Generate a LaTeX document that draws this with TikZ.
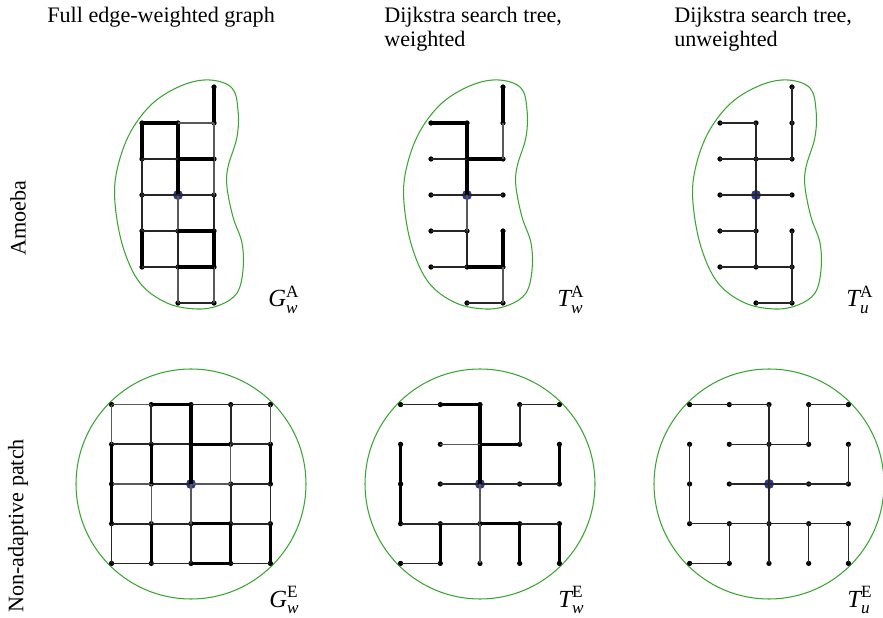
\documentclass[tikz,border=0pt]{standalone}
\usepackage{amsmath}
\usepackage{fontspec}
\setmainfont{Liberation Serif}
\usepackage{tikz}
\definecolor{blobc}{HTML}{3AA632}
\definecolor{rootc}{HTML}{2B3C8E}

\begin{document}
\begin{tikzpicture}[x=0.02cm, y=-0.02cm,
  dot/.style={circle, fill=black, inner sep=0pt, minimum size=1.05mm},
  root/.style={circle, fill=rootc, inner sep=0pt, minimum size=2mm},
  w1/.style={line width=0.7pt, black!65},
  w2/.style={line width=1pt, black!85},
  w3/.style={line width=1.8pt, black},
  flat/.style={line width=0.9pt, black!85},
  blobline/.style={line width=0.6pt, blobc},
  head/.style={font=\fontsize{12.6}{13.7}\selectfont, inner sep=0pt, align=left, anchor=north west},
  side/.style={font=\fontsize{12.6}{13.7}\selectfont, inner sep=0pt, rotate=90},
  lab/.style={font=\fontsize{14}{16}\selectfont, inner sep=0pt, anchor=base west},
  blob/.pic={\draw[blobline] plot[smooth cycle, tension=0.6] coordinates {
    (32,-115) (54,-107) (60,-85) (59,-58) (50,-28) (49,-8) (55,22) (64,48)
    (65,75) (59,98) (42,110) (19,114) (-11,108) (-38,88) (-55,52) (-63,8)
    (-61,-25) (-48,-62) (-25,-92) (5,-110)};}]
  \useasboundingbox (0,0) rectangle (883,618);

  % column and row headings
  \node[head] (hG) at (47,7) {Full edge-weighted graph};
  \node[head] (hTw) at (384,7) {Dijkstra search tree,\\weighted};
  \node[head] (hTu) at (674,7) {Dijkstra search tree,\\unweighted};
  \node[side] (rA) at (18,218) {Amoeba};
  \node[side] (rE) at (18,526) {Non-adaptive patch};

  % amoeba, full graph
  \begin{scope}[shift={(178,195)}]
    \pic {blob};
    \foreach \c/\r in {2/0, 0/1,1/1,2/1, 0/2,1/2,2/2, 0/3,2/3, 0/4,1/4,2/4, 0/5,1/5,2/5, 1/6,2/6}
      \node[dot] (gA-\c-\r) at ({36*(\c-1)},{36*(\r-3)}) {};
    \node[root] (gA-1-3) at (0,0) {};
    \foreach \a/\b/\wt in {2-0/2-1/3, 2-1/2-2/1, 2-2/2-3/1, 2-3/2-4/2, 2-4/2-5/3, 2-5/2-6/1,
        1-1/1-2/3, 1-2/1-3/3, 1-3/1-4/1, 1-4/1-5/2, 1-5/1-6/1,
        0-1/0-2/3, 0-2/0-3/2, 0-3/0-4/2, 0-4/0-5/3,
        0-1/1-1/3, 1-1/2-1/1, 0-2/1-2/2, 1-2/2-2/3, 0-3/1-3/2, 1-3/2-3/2,
        0-4/1-4/2, 1-4/2-4/3, 0-5/1-5/2, 1-5/2-5/3, 1-6/2-6/2}
      \draw[w\wt] (gA-\a.center) -- (gA-\b.center);
  \end{scope}
  \node[lab] (lGA) at (268,307) {$\textit{G}_{\textit{w}}^{\textrm{A}}$};

  % amoeba, weighted tree
  \begin{scope}[shift={(467,195)}]
    \pic {blob};
    \foreach \c/\r in {2/0, 0/1,1/1,2/1, 0/2,1/2,2/2, 0/3,2/3, 0/4,1/4,2/4, 0/5,1/5,2/5, 1/6,2/6}
      \node[dot] (tA-\c-\r) at ({36*(\c-1)},{36*(\r-3)}) {};
    \node[root] (tA-1-3) at (0,0) {};
    \foreach \a/\b/\wt in {1-3/0-3/2, 1-3/2-3/2, 1-3/1-2/3, 1-3/1-4/1,
        1-2/0-2/2, 1-2/2-2/3, 1-2/1-1/3, 1-1/0-1/3, 2-2/2-1/1, 2-1/2-0/3,
        1-4/0-4/2, 1-4/1-5/2, 1-5/0-5/2, 1-5/2-5/3, 2-5/2-4/3, 2-5/2-6/1, 2-6/1-6/2}
      \draw[w\wt] (tA-\a.center) -- (tA-\b.center);
  \end{scope}
  \node[lab] (lTwA) at (557,307) {$\textit{T}_{\textit{w}}^{\textrm{A}}$};

  % amoeba, unweighted tree
  \begin{scope}[shift={(756,195)}]
    \pic {blob};
    \foreach \c/\r in {2/0, 0/1,1/1,2/1, 0/2,1/2,2/2, 0/3,2/3, 0/4,1/4,2/4, 0/5,1/5,2/5, 1/6,2/6}
      \node[dot] (uA-\c-\r) at ({36*(\c-1)},{36*(\r-3)}) {};
    \node[root] (uA-1-3) at (0,0) {};
    \foreach \a/\b in {1-3/0-3, 1-3/2-3, 1-3/1-2, 1-3/1-4,
        1-2/0-2, 1-2/2-2, 1-2/1-1, 1-1/0-1, 2-2/2-1, 2-1/2-0,
        1-4/0-4, 1-4/1-5, 1-5/0-5, 1-5/2-5, 2-5/2-4, 2-5/2-6, 2-6/1-6}
      \draw[flat] (uA-\a.center) -- (uA-\b.center);
  \end{scope}
  \node[lab] (lTuA) at (846,307) {$\textit{T}_{\textit{u}}^{\textrm{A}}$};

  % patch, full graph
  \begin{scope}[shift={(191,484)}]
    \draw[blobline] (0,0) circle[radius=115];
    \foreach \c in {0,...,4}
      \foreach \r in {0,...,4}
        \node[dot] (gE-\c-\r) at ({39.7*(\c-2)},{39.7*(\r-2)}) {};
    \node[root] (gE-2-2) at (0,0) {};
    \foreach \a/\b/\wt in {0-0/1-0/1, 1-0/2-0/3, 2-0/3-0/2, 3-0/4-0/2,
        0-1/1-1/2, 1-1/2-1/2, 2-1/3-1/3, 3-1/4-1/2,
        0-2/1-2/1, 1-2/2-2/2, 2-2/3-2/1, 3-2/4-2/2,
        0-3/1-3/2, 1-3/2-3/2, 2-3/3-3/3, 3-3/4-3/2,
        0-4/1-4/2, 1-4/2-4/2, 2-4/3-4/3, 3-4/4-4/2,
        0-0/0-1/1, 0-1/0-2/3, 0-2/0-3/3, 0-3/0-4/2,
        1-0/1-1/2, 1-1/1-2/3, 1-2/1-3/1, 1-3/1-4/3,
        2-0/2-1/3, 2-1/2-2/3, 2-2/2-3/1, 2-3/2-4/2,
        3-0/3-1/2, 3-1/3-2/1, 3-2/3-3/2, 3-3/3-4/3,
        4-0/4-1/1, 4-1/4-2/3, 4-2/4-3/2, 4-3/4-4/3}
      \draw[w\wt] (gE-\a.center) -- (gE-\b.center);
  \end{scope}
  \node[lab] (lGE) at (269,607) {$\textit{G}_{\textit{w}}^{\textrm{E}}$};

  % patch, weighted tree
  \begin{scope}[shift={(480,484)}]
    \draw[blobline] (0,0) circle[radius=115];
    \foreach \c in {0,...,4}
      \foreach \r in {0,...,4}
        \node[dot] (tE-\c-\r) at ({39.7*(\c-2)},{39.7*(\r-2)}) {};
    \node[root] (tE-2-2) at (0,0) {};
    \foreach \a/\b/\wt in {2-2/1-2/2, 2-2/3-2/2, 2-2/2-1/3, 2-2/2-3/1,
        3-2/4-2/2, 4-2/4-1/3, 2-1/1-1/1, 2-1/3-1/3, 2-1/2-0/3,
        3-1/3-0/2, 3-0/4-0/2, 2-0/1-0/3, 1-0/0-0/2,
        2-3/1-3/2, 2-3/3-3/3, 2-3/2-4/1, 1-3/0-3/2, 1-3/1-4/3,
        0-3/0-2/3, 0-2/0-1/3, 1-4/0-4/2, 3-3/4-3/2, 3-3/3-4/3, 4-3/4-4/3}
      \draw[w\wt] (tE-\a.center) -- (tE-\b.center);
  \end{scope}
  \node[lab] (lTwE) at (558,607) {$\textit{T}_{\textit{w}}^{\textrm{E}}$};

  % patch, unweighted tree
  \begin{scope}[shift={(769,484)}]
    \draw[blobline] (0,0) circle[radius=115];
    \foreach \c in {0,...,4}
      \foreach \r in {0,...,4}
        \node[dot] (uE-\c-\r) at ({39.7*(\c-2)},{39.7*(\r-2)}) {};
    \node[root] (uE-2-2) at (0,0) {};
    \foreach \a/\b in {2-2/1-2, 2-2/3-2, 2-2/2-1, 2-2/2-3,
        3-2/4-2, 4-2/4-1, 2-1/1-1, 2-1/3-1, 2-1/2-0,
        3-1/3-0, 3-0/4-0, 2-0/1-0, 1-0/0-0,
        2-3/1-3, 2-3/3-3, 2-3/2-4, 1-3/0-3, 1-3/1-4,
        0-3/0-2, 0-2/0-1, 1-4/0-4, 3-3/4-3, 3-3/3-4, 4-3/4-4}
      \draw[flat] (uE-\a.center) -- (uE-\b.center);
  \end{scope}
  \node[lab] (lTuE) at (847,607) {$\textit{T}_{\textit{u}}^{\textrm{E}}$};
\end{tikzpicture}
\end{document}
